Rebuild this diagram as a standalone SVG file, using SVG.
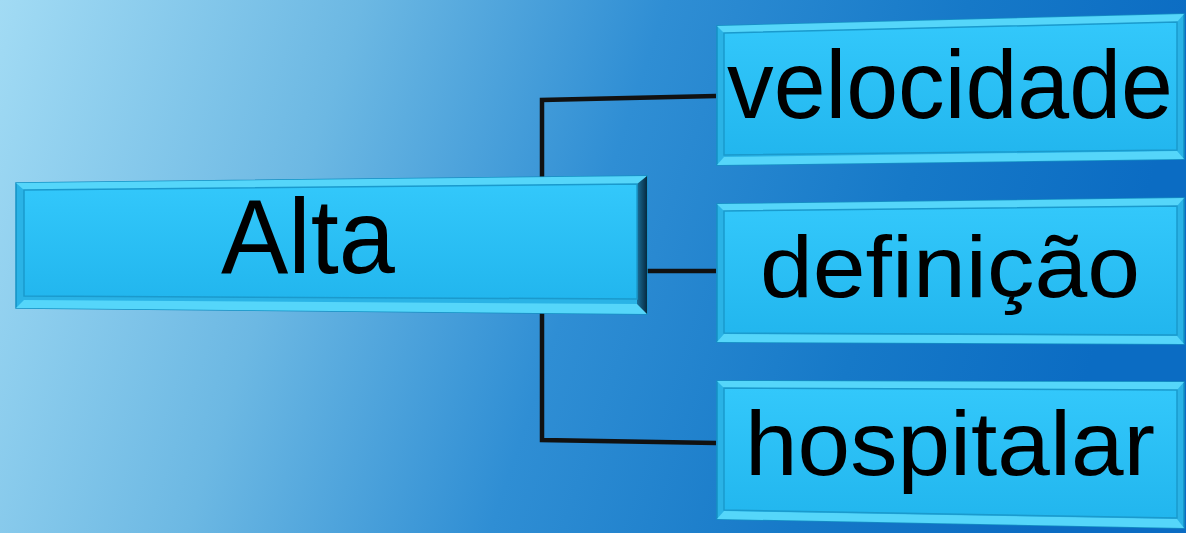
<svg xmlns="http://www.w3.org/2000/svg" width="1186" height="533" viewBox="0 0 1186 533">
<defs>
<linearGradient id="bg" x1="0" y1="0" x2="1" y2="0.15">
<stop offset="0" stop-color="#A2DBF4"/>
<stop offset="0.3" stop-color="#6CB8E3"/>
<stop offset="0.55" stop-color="#2F8ED4"/>
<stop offset="0.8" stop-color="#1679C8"/>
<stop offset="1" stop-color="#0B6CC3"/>
</linearGradient>
<linearGradient id="face" x1="0" y1="0" x2="0" y2="1">
<stop offset="0" stop-color="#33C8FB"/>
<stop offset="1" stop-color="#22B6EE"/>
</linearGradient>
<linearGradient id="darkside" x1="0" y1="0" x2="1" y2="0">
<stop offset="0" stop-color="#1B6E98"/>
<stop offset="1" stop-color="#062A40"/>
</linearGradient>
</defs>
<style>
.bevel{fill:#2AB3E6;stroke:#1591C4;stroke-width:1.5}
.hi{fill:#55D6FA}
.face{fill:url(#face);stroke:#1A9ACD;stroke-width:1.5}
.dark{fill:url(#darkside)}
.lbl{font-family:"Liberation Sans",Arial,sans-serif;fill:#000}
.conn{fill:none;stroke:#111;stroke-width:4.5;stroke-linejoin:miter}
</style>
<rect x="0" y="0" width="1186" height="533" fill="url(#bg)"/>
<g id="connectors">
<polyline class="conn" points="716,96 542,100 542,440 716,443"/>
<line class="conn" x1="645" y1="271" x2="716" y2="271"/>
</g>
<g id="node-alta">
<polygon class="bevel" points="16,183 647,176 647,314 16,308"/>
<polygon class="hi" points="16,183 647,176 640,184 24,190"/>
<polygon class="hi" points="16,308 647,314 640,304 24,300"/>
<polygon class="dark" points="637,184 647,176 647,314 637,304"/>
<polygon class="face" points="24,190 637,184 637,299 24,296"/>
<text class="lbl" x="221" y="273" font-size="106" textLength="174" lengthAdjust="spacingAndGlyphs">Alta</text>
</g>
<g id="node-velocidade">
<polygon class="bevel" points="717,26 1184,14 1184,159 717,165"/>
<polygon class="hi" points="717,26 1184,14 1177,22 724,33"/>
<polygon class="hi" points="717,165 1184,159 1177,151 724,157"/>
<polygon class="face" points="724,33 1177,22 1177,150 724,155"/>
<text class="lbl" x="727" y="118" font-size="96" textLength="446" lengthAdjust="spacingAndGlyphs">velocidade</text>
</g>
<g id="node-definicao">
<polygon class="bevel" points="717,204 1184,198 1184,344 717,342"/>
<polygon class="hi" points="717,204 1184,198 1177,206 724,211"/>
<polygon class="hi" points="717,342 1184,344 1177,336 724,334"/>
<polygon class="face" points="724,211 1177,206 1177,335 724,333"/>
<text class="lbl" x="760" y="297" font-size="88" textLength="380" lengthAdjust="spacingAndGlyphs">definição</text>
</g>
<g id="node-hospitalar">
<polygon class="bevel" points="717,381 1184,382 1184,528 717,519"/>
<polygon class="hi" points="717,381 1184,382 1177,390 724,388"/>
<polygon class="hi" points="717,519 1184,528 1177,519 724,511"/>
<polygon class="face" points="724,388 1177,390 1177,518 724,510"/>
<text class="lbl" x="745" y="475" font-size="90" textLength="410" lengthAdjust="spacingAndGlyphs">hospitalar</text>
</g>
</svg>
